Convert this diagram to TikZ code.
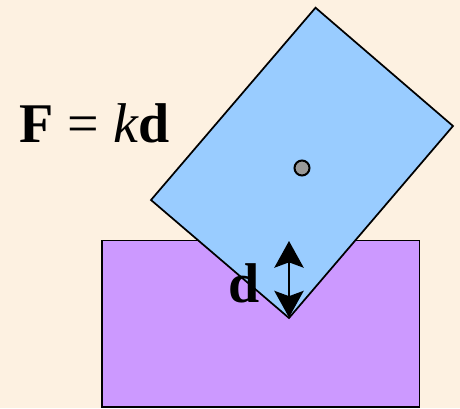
\documentclass[tikz,border=0pt]{standalone}
\usepackage{fontspec}
\setmainfont{Liberation Serif}
\usepackage{xcolor}
\usepackage{tikz}
\usetikzlibrary{arrows.meta}

\definecolor{paper}{HTML}{FDF1E1}
\definecolor{blockblue}{HTML}{99CCFF}
\definecolor{basepurple}{HTML}{CC99FF}
\definecolor{pivotgray}{HTML}{999999}

\begin{document}
\begin{tikzpicture}[x=0.75pt, y=-0.75pt,
    outline/.style={draw=black, line width=1.3pt, line join=miter},
    bigtext/.style={font=\fontsize{42}{48}\selectfont, inner sep=0pt},
    >={Stealth[length=20pt, width=22pt, inset=4pt]}]
      % Background
      \fill[paper] (0, 0) rectangle (460, 408);
      \useasboundingbox (0, 0) rectangle (460, 408);

      % Base block
      \draw[outline, fill=basepurple] (102, 240.5) rectangle (419.5, 407);

      % Tilted block pressed into the base
      \draw[outline, fill=blockblue] (315.5, 7.7) -- (453, 126) -- (289, 318) -- (151, 200) -- cycle;

      % Centre of mass
      \draw[line width=1.5pt, fill=pivotgray] (302, 168) circle (7.5);

      % Displacement arrow
      \coordinate (dtop) at (289, 241);
      \coordinate (dbot) at (289, 317.5);
      \draw[<->, line width=1.6pt] (dtop) -- (dbot);
      \node[bigtext, anchor=base] (dlabel) at (244.5, 302) {\textbf{d}};

      % Spring law
      \node[bigtext, anchor=base west] (law) at (19, 142) {\textbf{F} = \textit{k}\textbf{d}};
    \end{tikzpicture}
\end{document}
